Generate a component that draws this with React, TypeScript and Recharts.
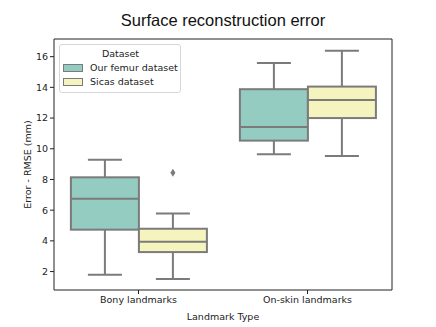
import React from 'react';
import { ComposedChart, Bar, XAxis, YAxis, Legend } from 'recharts';

// categories and box statistics
const categories = ['Bony landmarks', 'On-skin landmarks'];

const femurLow = [1.79, 9.64];
const femurQ1 = [4.73, 10.53];
const femurMedian = [6.74, 11.42];
const femurQ3 = [8.14, 13.88];
const femurHigh = [9.29, 15.59];
const femurOutliers: number[][] = [[], []];

const sicasLow = [1.51, 9.53];
const sicasQ1 = [3.27, 12.0];
const sicasMedian = [3.95, 13.17];
const sicasQ3 = [4.79, 14.05];
const sicasHigh = [5.79, 16.39];
const sicasOutliers: number[][] = [[8.43], []];

const yTicks = [2, 4, 6, 8, 10, 12, 14, 16];

const FEMUR_COLOR = '#95ccc1';
const SICAS_COLOR = '#f5f4be';
const LINE = '#7b7b7b';
const FONT = '"DejaVu Sans", sans-serif';

interface BoxStats {
  lo: number;
  q1: number;
  med: number;
  q3: number;
  hi: number;
  out: number[];
}

const data = categories.map((name, i) => ({
  name,
  femur: {
    lo: femurLow[i],
    q1: femurQ1[i],
    med: femurMedian[i],
    q3: femurQ3[i],
    hi: femurHigh[i],
    out: femurOutliers[i],
  } as BoxStats,
  sicas: {
    lo: sicasLow[i],
    q1: sicasQ1[i],
    med: sicasMedian[i],
    q3: sicasQ3[i],
    hi: sicasHigh[i],
    out: sicasOutliers[i],
  } as BoxStats,
}));

// the bar spans lo..hi; other values are placed on the same linear scale
const boxShape = (key: 'femur' | 'sicas') => (props: any) => {
  const { x, y, width, height, payload, fill } = props;
  const s: BoxStats = payload[key];
  const top = Math.min(y, y + height);
  const h = Math.abs(height);
  const py = (v: number) => top + ((s.hi - v) / (s.hi - s.lo)) * h;
  const cx = x + width / 2;
  const cap = width / 4;
  return (
    <g>
      <line x1={cx} x2={cx} y1={py(s.hi)} y2={py(s.q3)} stroke={LINE} strokeWidth={2} />
      <line x1={cx} x2={cx} y1={py(s.q1)} y2={py(s.lo)} stroke={LINE} strokeWidth={2} />
      <line x1={cx - cap} x2={cx + cap} y1={py(s.hi)} y2={py(s.hi)} stroke={LINE} strokeWidth={2} />
      <line x1={cx - cap} x2={cx + cap} y1={py(s.lo)} y2={py(s.lo)} stroke={LINE} strokeWidth={2} />
      <rect
        x={x}
        y={py(s.q3)}
        width={width}
        height={py(s.q1) - py(s.q3)}
        fill={fill}
        stroke={LINE}
        strokeWidth={2}
      />
      <line x1={x} x2={x + width} y1={py(s.med)} y2={py(s.med)} stroke={LINE} strokeWidth={2} />
      {s.out.map((v, j) => {
        const oy = py(v);
        return (
          <polygon
            key={j}
            points={`${cx},${oy - 4} ${cx + 2.5},${oy} ${cx},${oy + 4} ${cx - 2.5},${oy}`}
            fill={LINE}
          />
        );
      })}
    </g>
  );
};

const LegendBox = (props: any) => {
  const { payload } = props;
  return (
    <div
      style={{
        boxSizing: 'border-box',
        width: 122,
        border: '1px solid #d6d6d6',
        borderRadius: 3,
        background: 'rgba(255,255,255,0.8)',
        fontFamily: FONT,
        fontSize: 9.5,
        color: '#222',
        padding: '2px 2px 3px 3px',
        lineHeight: '14px',
        whiteSpace: 'nowrap',
      }}
    >
      <div style={{ textAlign: 'center' }}>Dataset</div>
      {(payload || []).map((p: any) => (
        <div key={p.value} style={{ display: 'flex', alignItems: 'center' }}>
          <span
            style={{
              display: 'inline-block',
              flex: 'none',
              width: 18,
              height: 6,
              background: p.color,
              border: `1px solid ${LINE}`,
              marginRight: 7,
            }}
          />
          {p.value}
        </div>
      ))}
    </div>
  );
};

export default function App() {
  const tickStyle = { fontSize: 9.5, fontFamily: FONT, fill: '#222' };
  return (
    <div style={{ position: 'absolute', left: 0, top: 0, width: 436, height: 327, background: '#fff' }}>
      <div
        style={{
          position: 'absolute',
          left: 54,
          width: 338,
          top: 11,
          textAlign: 'center',
          fontFamily: '"Liberation Sans", Arial, sans-serif',
          fontSize: 16.5,
          lineHeight: '18px',
          color: '#111',
        }}
      >
        Surface reconstruction error
      </div>
      <ComposedChart
        width={436}
        height={327}
        data={data}
        margin={{ top: 38, right: 43, bottom: 0, left: 0 }}
        barCategoryGap="10%"
        barGap={0}
      >
        <XAxis
          dataKey="name"
          height={37}
          tick={tickStyle}
          tickSize={4}
          tickMargin={2}
          stroke="#222"
          label={{
            value: 'Landmark Type',
            position: 'insideBottom',
            offset: 7,
            style: { fontSize: 9.5, fontFamily: FONT, fill: '#222' },
          }}
        />
        <XAxis xAxisId="top" dataKey="name" orientation="top" height={1} tick={false} tickLine={false} stroke="#222" />
        <YAxis
          width={54}
          domain={[0.8, 17.15]}
          ticks={yTicks}
          allowDataOverflow
          tick={tickStyle}
          tickSize={4}
          tickMargin={2}
          stroke="#222"
          label={{
            value: 'Error - RMSE (mm)',
            angle: -90,
            position: 'insideLeft',
            offset: 28,
            style: { fontSize: 9.5, fontFamily: FONT, fill: '#222', textAnchor: 'middle' },
          }}
        />
        <YAxis
          yAxisId="right"
          orientation="right"
          width={1}
          domain={[0.8, 17.15]}
          tick={false}
          tickLine={false}
          stroke="#222"
        />
        <Legend
          layout="vertical"
          align="center"
          verticalAlign="middle"
          content={<LegendBox />}
          wrapperStyle={{ left: 59, top: 44, width: 122 }}
        />
        <Bar
          name="Our femur dataset"
          dataKey={(d: any) => [d.femur.lo, d.femur.hi]}
          fill={FEMUR_COLOR}
          shape={boxShape('femur')}
          isAnimationActive={false}
        />
        <Bar
          name="Sicas dataset"
          dataKey={(d: any) => [d.sicas.lo, d.sicas.hi]}
          fill={SICAS_COLOR}
          shape={boxShape('sicas')}
          isAnimationActive={false}
        />
      </ComposedChart>
    </div>
  );
}
